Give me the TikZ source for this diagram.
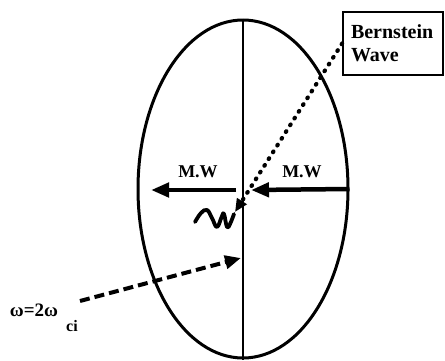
\documentclass[tikz,border=0pt]{standalone}
\usepackage{fontspec}
\setmainfont{Liberation Serif}
\usetikzlibrary{arrows.meta, positioning, shapes.geometric}

\begin{document}
\begin{tikzpicture}[x=1pt, y=-1pt,
    plasmaring/.style={draw, ellipse, line width=3pt, minimum width=210pt, minimum height=338pt, inner sep=0pt},
    wavebox/.style={draw, line width=1.8pt, align=left, text width=84pt, inner xsep=8pt, minimum height=63pt, font=\bfseries\fontsize{20}{23}\selectfont},
    lbl/.style={font=\bfseries\fontsize{18}{20}\selectfont, inner sep=0pt},
    mwarr/.style={-{Triangle[length=18pt, width=14pt]}, line width=4.5pt},
    dotarr/.style={-{Triangle[length=13pt, width=11pt]}, line width=4.2pt, line cap=round, dash pattern=on 0.8pt off 7.2pt},
    dasharr/.style={-{Triangle[length=16pt, width=13pt]}, line width=4pt, dash pattern=on 10pt off 5pt}]
    \useasboundingbox (0,0) rectangle (445,360);
    \node[plasmaring] (plasma) at (243,189) {};
    \draw[line width=2.5pt] (plasma.north) -- (plasma.south);
    \node[wavebox] (bw) at (393,43.5) {Bernstein\\Wave};
    % microwave launch from both sides
    \coordinate (mwl) at (236,190);
    \coordinate (mwlt) at (151,190);
    \coordinate (mwrt) at (251,190);
    \draw[mwarr] (mwl) -- (mwlt);
    \draw[mwarr] (plasma.east) -- (mwrt);
    \node[lbl] (mwleft) at (198,172) {M.W};
    \node[lbl] (mwright) at (302,172) {M.W};
    % converted wave
    \coordinate (bwtip) at (235,212);
    \draw[dotarr] (bw.west) -- (bwtip);
    \draw[line width=3.8pt, line cap=round, line join=round]
        plot[smooth, tension=0.7] coordinates {(195,222) (201,213) (207,210) (212,218) (217,227) (222,216) (224,214) (227,227) (230,224) (234,214)};
    % second harmonic injection
    \node[lbl, font=\bfseries\fontsize{19}{20}\selectfont] (freq) at (34,310) {ω=2ω};
    \node[lbl, font=\bfseries\fontsize{16}{18}\selectfont] (ci) at (72,326) {ci};
    \coordinate (launch) at (80,301);
    \coordinate (hit) at (241,258);
    \draw[dasharr] (launch) -- (hit);
\end{tikzpicture}
\end{document}
